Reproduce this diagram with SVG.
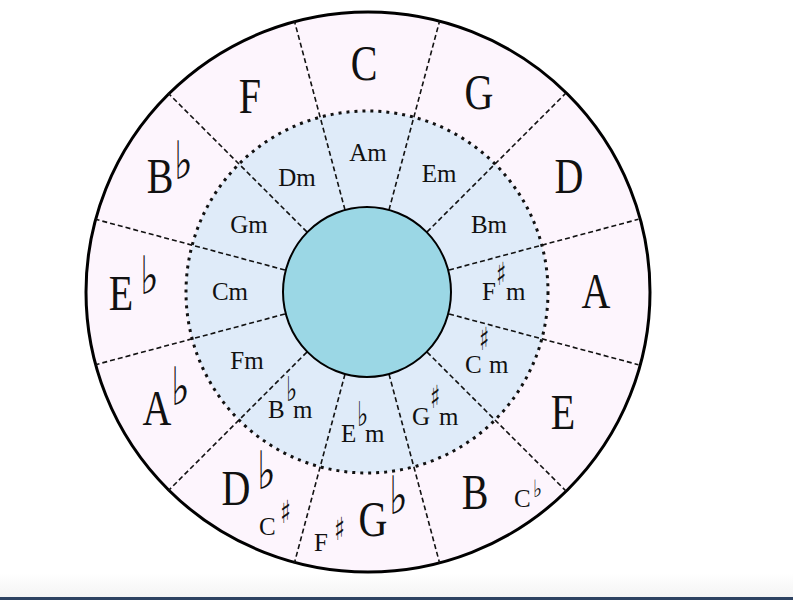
<svg xmlns="http://www.w3.org/2000/svg" width="793" height="600" viewBox="0 0 793 600">
<defs>
<linearGradient id="foot" x1="0" y1="0" x2="0" y2="1">
<stop offset="0" stop-color="#ffffff"/>
<stop offset="1" stop-color="#f4f4f4"/>
</linearGradient>
<style>
.maj{font-family:"Liberation Serif",serif;font-size:50px;fill:#111;text-anchor:middle}
.mn{font-family:"Liberation Serif",serif;font-size:25px;fill:#111}
.mnc{font-family:"Liberation Serif",serif;font-size:25px;fill:#111;text-anchor:middle}
.sm{font-family:"Liberation Serif",serif;font-size:25px;fill:#111}
.fL{font-family:"DejaVu Sans",sans-serif;font-size:53px;fill:#111}
.fS{font-family:"DejaVu Sans",sans-serif;font-size:34px;fill:#111}
.fXS{font-family:"DejaVu Sans",sans-serif;font-size:24px;fill:#111}
.sS{font-family:"DejaVu Sans",sans-serif;font-size:32px;fill:#111}
.dash{stroke:#111;stroke-width:1.6;stroke-dasharray:5 3;fill:none}
</style>
</defs>
<rect width="793" height="600" fill="#ffffff"/>
<rect x="0" y="573" width="793" height="24" fill="url(#foot)"/>
<rect x="0" y="597" width="793" height="3" fill="#2d4261"/>

<ellipse cx="368" cy="292" rx="282" ry="280" fill="#fdf5fd" stroke="#000" stroke-width="3"/>
<circle cx="367" cy="292" r="181" fill="#dfebf9"/>

<g id="connectors">
<line class="dash" x1="389.0" y1="209.9" x2="439.7" y2="20.6"/>
<line class="dash" x1="427.1" y1="231.9" x2="565.7" y2="93.3"/>
<line class="dash" x1="449.1" y1="270.0" x2="638.4" y2="219.3"/>
<line class="dash" x1="449.1" y1="314.0" x2="638.4" y2="364.7"/>
<line class="dash" x1="427.1" y1="352.1" x2="565.7" y2="490.7"/>
<line class="dash" x1="389.0" y1="374.1" x2="439.7" y2="563.4"/>
<line class="dash" x1="345.0" y1="374.1" x2="294.3" y2="563.4"/>
<line class="dash" x1="306.9" y1="352.1" x2="168.3" y2="490.7"/>
<line class="dash" x1="284.9" y1="314.0" x2="95.6" y2="364.7"/>
<line class="dash" x1="284.9" y1="270.0" x2="95.6" y2="219.3"/>
<line class="dash" x1="306.9" y1="231.9" x2="168.3" y2="93.3"/>
<line class="dash" x1="345.0" y1="209.9" x2="294.3" y2="20.6"/>
</g>

<circle cx="367" cy="292" r="181" fill="none" stroke="#111" stroke-width="3" stroke-dasharray="3 5"/>

<g id="center"><ellipse cx="367" cy="292" rx="84" ry="85" fill="#9bd7e5" stroke="#000" stroke-width="2"/></g>

<g id="key-C"><text class="maj" transform="translate(364,80) scale(0.8,1)">C</text></g>
<g id="key-G"><text class="maj" transform="translate(479,109) scale(0.8,1)">G</text></g>
<g id="key-D"><text class="maj" transform="translate(569,193) scale(0.8,1)">D</text></g>
<g id="key-A"><text class="maj" transform="translate(596,308) scale(0.8,1)">A</text></g>
<g id="key-E"><text class="maj" transform="translate(563,429) scale(0.8,1)">E</text></g>
<g id="key-B"><text class="maj" transform="translate(475,509) scale(0.8,1)">B</text>
<text class="sm" x="514" y="507">C</text><text class="fXS" transform="translate(533,497) scale(0.8,1)">♭</text></g>
<g id="key-Gb"><text class="maj" transform="translate(373,536) scale(0.8,1)">G</text><text class="fL" transform="translate(389,514) scale(0.75,1)">♭</text>
<text class="sm" x="314" y="551">F</text><text class="sS" transform="translate(334,540) scale(0.7,1)">♯</text></g>
<g id="key-Db"><text class="maj" transform="translate(236,505) scale(0.8,1)">D</text><text class="fL" transform="translate(257,489) scale(0.75,1)">♭</text>
<text class="sm" x="259" y="535">C</text><text class="sS" transform="translate(280,523) scale(0.7,1)">♯</text></g>
<g id="key-Ab"><text class="maj" transform="translate(157,425) scale(0.8,1)">A</text><text class="fL" transform="translate(171,405) scale(0.75,1)">♭</text></g>
<g id="key-Eb"><text class="maj" transform="translate(121,310) scale(0.8,1)">E</text><text class="fL" transform="translate(140,294) scale(0.75,1)">♭</text></g>
<g id="key-Bb"><text class="maj" transform="translate(160,193) scale(0.8,1)">B</text><text class="fL" transform="translate(174,179) scale(0.75,1)">♭</text></g>
<g id="key-F"><text class="maj" transform="translate(250,113) scale(0.8,1)">F</text></g>

<g id="minor-Am"><text class="mnc" x="368" y="161">Am</text></g>
<g id="minor-Em"><text class="mnc" x="439" y="182">Em</text></g>
<g id="minor-Bm"><text class="mnc" x="489" y="233">Bm</text></g>
<g id="minor-Fsm"><text class="mn" x="482" y="300">F</text><text class="sS" transform="translate(496,285) scale(0.65,1)">♯</text><text class="mn" x="506" y="300">m</text></g>
<g id="minor-Csm"><text class="mn" x="465" y="373">C</text><text class="sS" transform="translate(479,350) scale(0.65,1)">♯</text><text class="mn" x="489" y="373">m</text></g>
<g id="minor-Gsm"><text class="mn" x="412" y="425">G</text><text class="sS" transform="translate(430,408) scale(0.65,1)">♯</text><text class="mn" x="439" y="425">m</text></g>
<g id="minor-Ebm"><text class="mn" x="341" y="442">E</text><text class="fS" transform="translate(357,426) scale(0.7,1)">♭</text><text class="mn" x="365" y="442">m</text></g>
<g id="minor-Bbm"><text class="mn" x="268" y="418">B</text><text class="fS" transform="translate(286,401) scale(0.7,1)">♭</text><text class="mn" x="293" y="418">m</text></g>
<g id="minor-Fm"><text class="mnc" x="247" y="369">Fm</text></g>
<g id="minor-Cm"><text class="mnc" x="230" y="300">Cm</text></g>
<g id="minor-Gm"><text class="mnc" x="249" y="233">Gm</text></g>
<g id="minor-Dm"><text class="mnc" x="297" y="186">Dm</text></g>
</svg>
